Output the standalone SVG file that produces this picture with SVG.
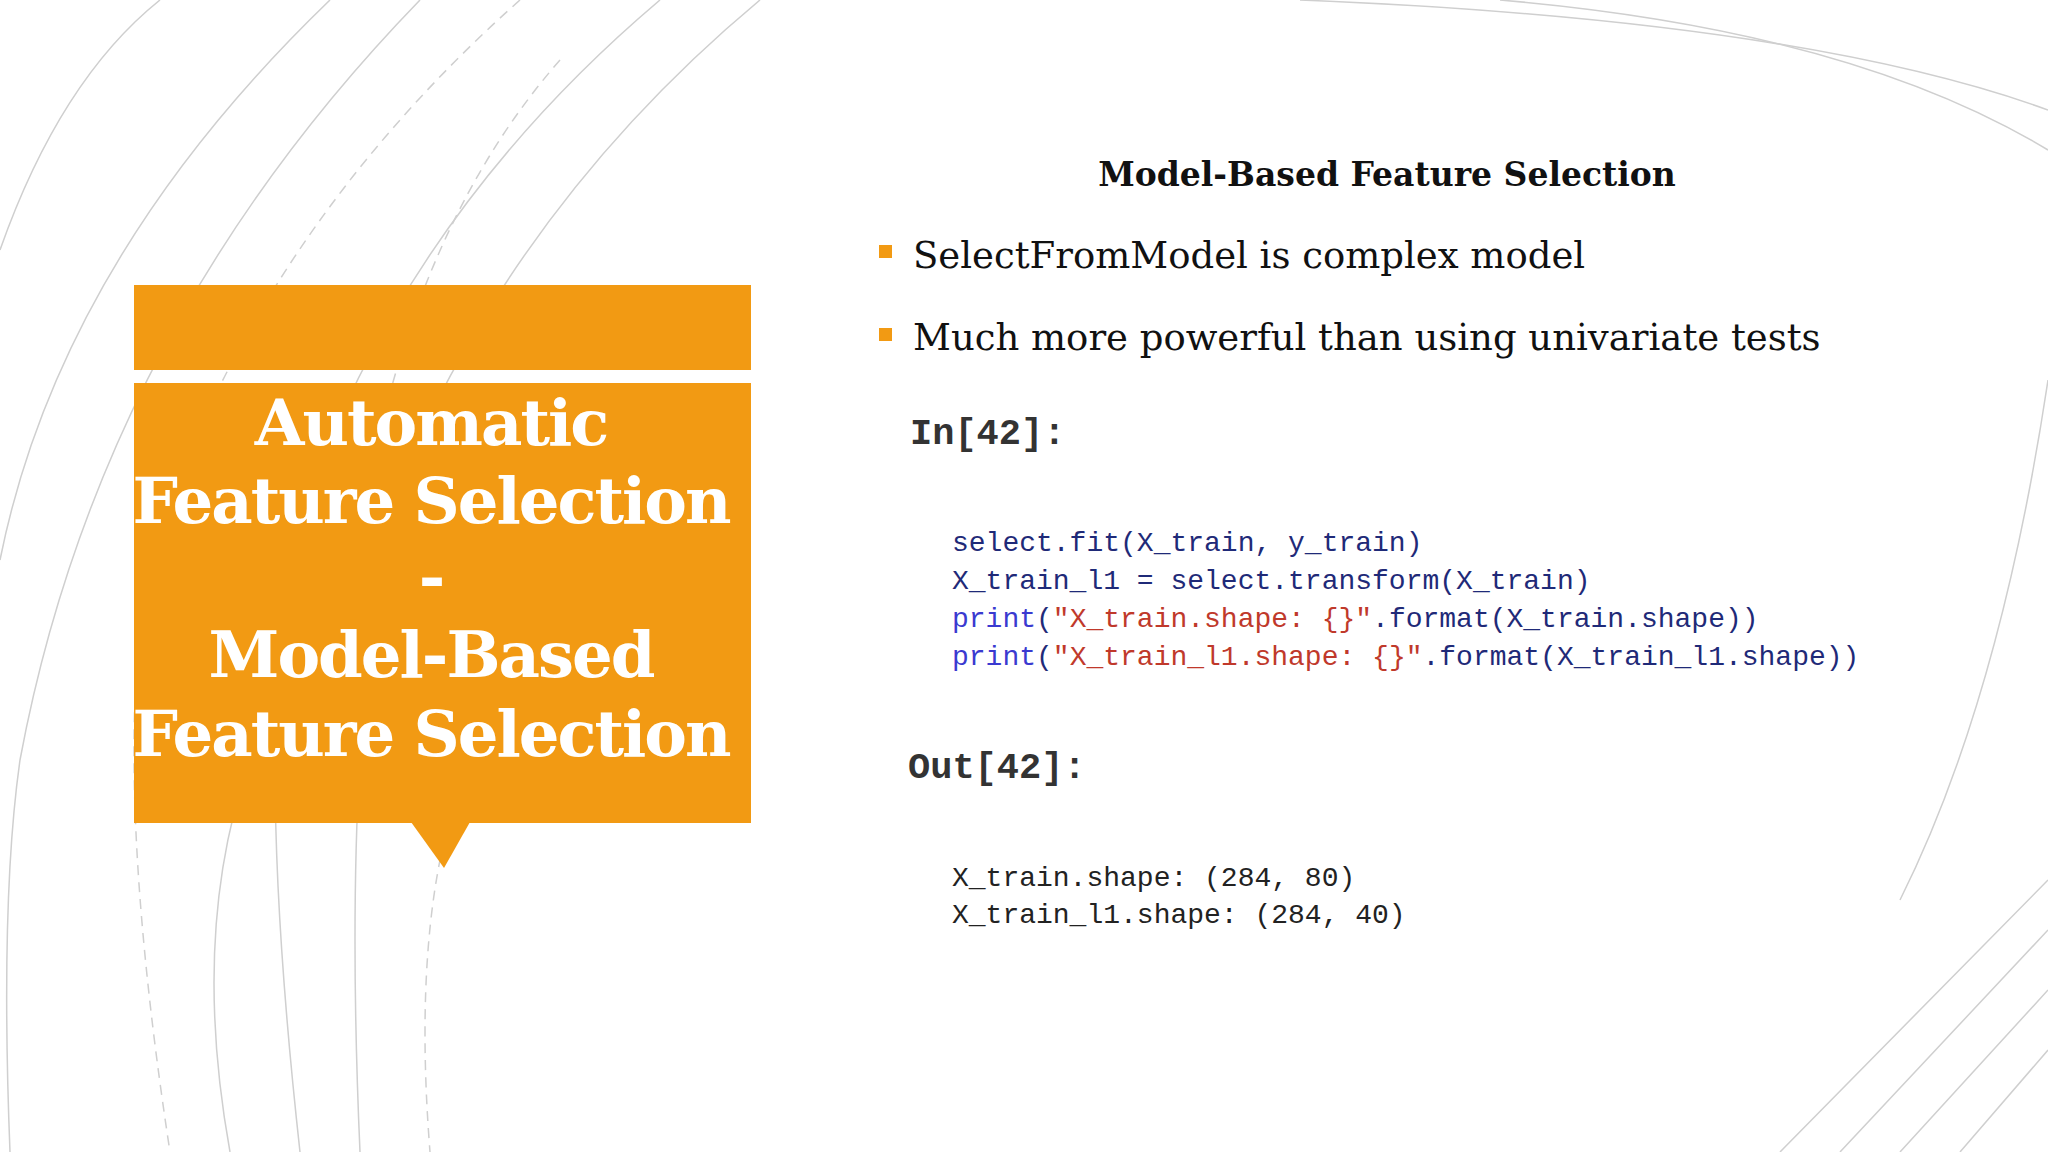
<svg xmlns="http://www.w3.org/2000/svg" width="2048" height="1152" viewBox="0 0 2048 1152">
<style>
.arc{fill:none;stroke:#cfcfcf;stroke-width:1.5}
.dash{fill:none;stroke:#cfcfcf;stroke-width:1.5;stroke-dasharray:10 7}
.title{font-family:"DejaVu Serif",serif;font-weight:bold;font-size:64px;fill:#fff;text-anchor:middle;letter-spacing:-2px}
.bul{font-family:"DejaVu Serif",serif;font-size:37px;fill:#111}
.code{font-family:"Liberation Mono",monospace;font-size:28px;fill:#1f2a78}
.str{fill:#c0392b}
.kw{fill:#3a3ad0}
.prompt{font-family:"Liberation Mono",monospace;font-weight:bold;font-size:37px;fill:#333}
.out{font-family:"Liberation Mono",monospace;font-size:28px;fill:#222}
</style>
<rect width="2048" height="1152" fill="#fff"/>
<g id="background">
<path class="arc" d="M330 0 Q60 260 0 560"/>
<path class="arc" d="M420 0 Q100 330 20 760 Q0 900 10 1152"/>
<path class="dash" d="M520 0 Q250 240 150 560 Q110 760 170 1152"/>
<path class="arc" d="M660 0 Q400 220 300 520 Q250 700 300 1152"/>
<path class="arc" d="M760 0 Q520 200 400 480 Q340 700 360 1152"/>
<path class="dash" d="M560 60 Q420 220 370 480"/>
<path class="dash" d="M470 760 Q410 900 430 1152"/>
<path class="arc" d="M230 1152 Q190 930 250 760"/>
<path class="arc" d="M0 250 Q60 80 160 0"/>
<path class="arc" d="M1300 0 Q1800 20 2048 110"/>
<path class="arc" d="M1500 0 Q1850 30 2048 150"/>
<path class="arc" d="M2048 880 L1780 1152 M2048 930 L1840 1152 M2048 990 L1900 1152 M2048 1050 L1960 1152"/>
<path class="arc" d="M2048 380 Q2000 700 1900 900"/>
</g>
<g id="title-box">
<rect x="134" y="285" width="617" height="85" fill="#f29a13"/>
<rect x="134" y="383" width="617" height="440" fill="#f29a13"/>
<polygon points="411,822 470,822 444,868" fill="#f29a13"/>
<text class="title" x="431" y="445">Automatic</text>
<text class="title" x="431" y="523">Feature Selection</text>
<text class="title" x="431" y="599">-</text>
<text class="title" x="431" y="677">Model-Based</text>
<text class="title" x="431" y="756">Feature Selection</text>
</g>
<g id="content">
<text x="1387" y="186" text-anchor="middle" style="font-family:'DejaVu Serif',serif;font-weight:bold;font-size:33px;fill:#111">Model-Based Feature Selection</text>
<rect x="879" y="245" width="13" height="13" fill="#f29a13"/>
<text class="bul" x="913" y="268">SelectFromModel is complex model</text>
<rect x="879" y="328" width="13" height="13" fill="#f29a13"/>
<text class="bul" x="913" y="350">Much more powerful than using univariate tests</text>
<text class="prompt" x="910" y="444">In[42]:</text>
<text class="code" x="952" y="551">select.fit(X_train, y_train)</text>
<text class="code" x="952" y="589">X_train_l1 = select.transform(X_train)</text>
<text class="code" x="952" y="627"><tspan class="kw">print</tspan>(<tspan class="str">"X_train.shape: {}"</tspan>.format(X_train.shape))</text>
<text class="code" x="952" y="665"><tspan class="kw">print</tspan>(<tspan class="str">"X_train_l1.shape: {}"</tspan>.format(X_train_l1.shape))</text>
<text class="prompt" x="908" y="778">Out[42]:</text>
<text class="out" x="952" y="886">X_train.shape: (284, 80)</text>
<text class="out" x="952" y="923">X_train_l1.shape: (284, 40)</text>
</g>
</svg>
